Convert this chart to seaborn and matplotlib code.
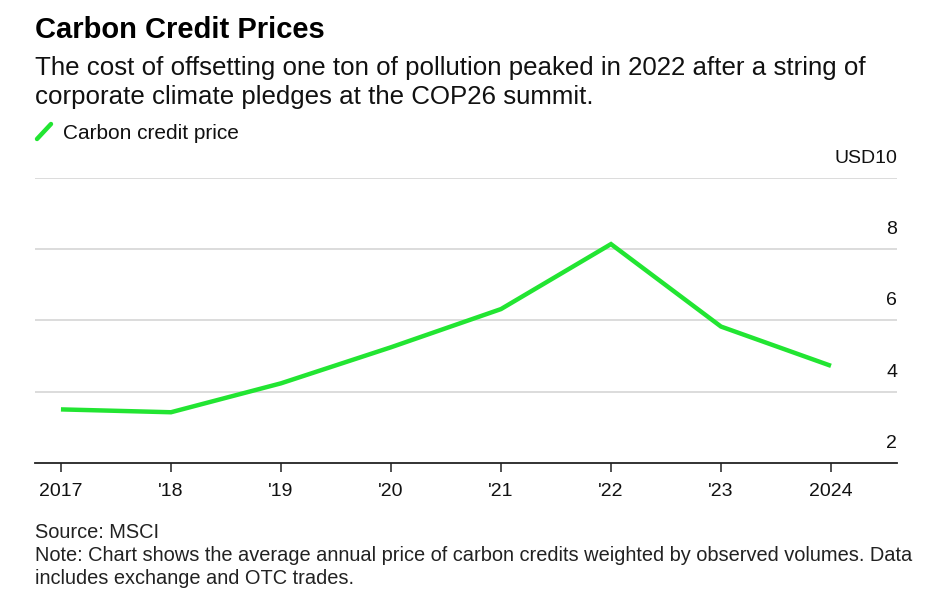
from matplotlib import pyplot as plt
from matplotlib.lines import Line2D
import seaborn as sns
import pandas as pd

# values
years = [2017, 2018, 2019, 2020, 2021, 2022, 2023, 2024]
prices = [3.51, 3.43, 4.24, 5.25, 6.32, 8.14, 5.83, 4.73]
year_labels = ['2017', "'18", "'19", "'20", "'21", "'22", "'23", '2024']
y_ticks = [2, 4, 6, 8, 10]
y_labels = ['2', '4', '6', '8', 'USD10']

df = pd.DataFrame({'year': years, 'price': prices})

sns.set_theme(style='white')
plt.rcParams['font.family'] = ['Liberation Sans', 'DejaVu Sans']

W, H = 938, 605
green = '#22e532'


def fx(x):
    return x / W


def fy(y):
    return 1 - y / H


fig = plt.figure(figsize=(W / 100, H / 100), dpi=100)
ax = fig.add_axes([fx(35), fy(463.3), fx(897) - fx(35), fy(177.7) - fy(463.3)])

sns.lineplot(data=df, x='year', y='price', ax=ax, color=green, lw=3.2,
             solid_capstyle='butt', solid_joinstyle='miter')

ax.set_xlim(2016.764, 2024.6)
ax.set_ylim(2, 10)

# gridlines
for v in y_ticks[1:]:
    ax.axhline(v, color='#d9d9d9', lw=1.3, zorder=0)

for s in ['top', 'right', 'left']:
    ax.spines[s].set_visible(False)
ax.spines['bottom'].set_color('#222222')
ax.spines['bottom'].set_linewidth(1.3)

ax.set_yticks([])
ax.set_xticks(years)
ax.set_xticklabels(year_labels, fontsize=14, color='#111111')
ax.tick_params(axis='x', direction='out', length=6.5, width=1.1, color='#222222', pad=8, bottom=True)
ax.set_xlabel('')
ax.set_ylabel('')

# y labels sit above their gridlines at the right edge
for v, lab in zip(y_ticks, y_labels):
    ax.annotate(lab, xy=(1.0, v), xycoords=ax.get_yaxis_transform(),
                xytext=(0, 8), textcoords='offset points',
                ha='right', va='bottom', fontsize=14, color='#111111')

# header
fig.text(fx(35), fy(38), 'Carbon Credit Prices', fontsize=21, fontweight='bold',
         color='#000000', va='baseline')
fig.text(fx(35), fy(75), 'The cost of offsetting one ton of pollution peaked in 2022 after a string of',
         fontsize=18.6, color='#111111', va='baseline')
fig.text(fx(35), fy(104), 'corporate climate pledges at the COP26 summit.',
         fontsize=18.6, color='#111111', va='baseline')

# legend
fig.add_artist(Line2D([fx(37), fx(51)], [fy(139), fy(124)], color=green, lw=3.2))
fig.text(fx(63), fy(139), 'Carbon credit price', fontsize=15, color='#111111', va='baseline')

# footer
foot = dict(fontsize=14.4, color='#222222', va='baseline')
fig.text(fx(35), fy(538), 'Source: MSCI', **foot)
fig.text(fx(35), fy(561), 'Note: Chart shows the average annual price of carbon credits weighted by observed volumes. Data', **foot)
fig.text(fx(35), fy(584), 'includes exchange and OTC trades.', **foot)

fig.savefig('out.png', dpi=100, facecolor='white')
